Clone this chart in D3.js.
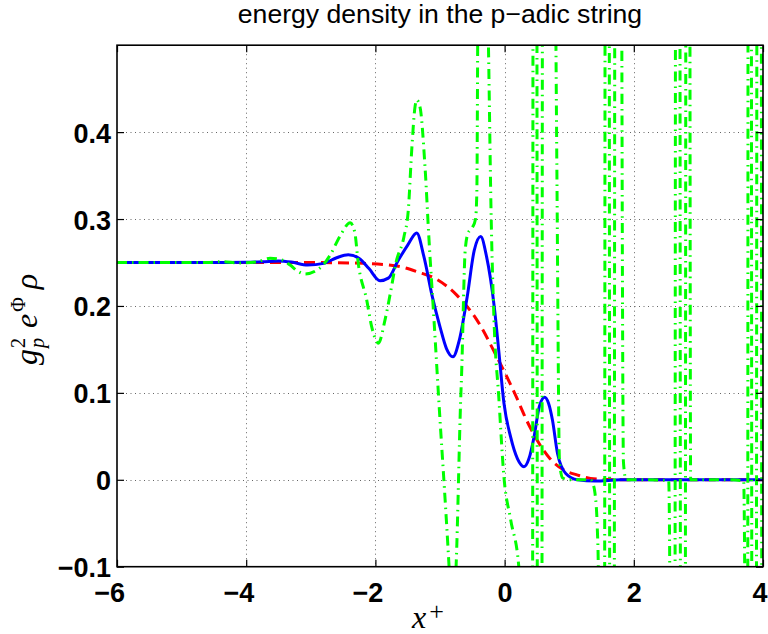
<!DOCTYPE html>
<html><head><meta charset="utf-8">
<script src="https://cdn.jsdelivr.net/npm/d3@7"></script>
<style>body{margin:0;background:#fff}svg{display:block}</style>
</head><body>
<svg id="c" width="768" height="634"></svg>
<script>
const titleText = "energy density in the p\u2212adic string";
const xTicks = [-6, -4, -2, 0, 2, 4];
const yTicks = [-0.1, 0, 0.1, 0.2, 0.3, 0.4];

// red dashed curve
const redX = [-6, -3.0, -2.19, -1.67, -1.34, -1.05, -0.74, -0.43, -0.12, 0.135, 0.39, 0.70, 0.90, 1.13, 1.33, 1.6, 2.0, 4.0];
const redY = [0.25, 0.25, 0.249, 0.246, 0.239, 0.2306, 0.2125, 0.184, 0.1415, 0.103, 0.061, 0.0246, 0.012, 0.0054, 0.0015, 0.0003, 0, 0];

// blue solid curve
const blueX = [-6, -4.5, -4.0, -3.75, -3.5, -3.3, -3.05, -2.8, -2.6, -2.42, -2.25, -2.1, -1.93, -1.8, -1.65, -1.5, -1.36, -1.25, -1.12, -1.0, -0.9, -0.8, -0.7, -0.58, -0.47, -0.37, -0.28, -0.16, -0.087, -0.01, 0.094, 0.2, 0.3, 0.38, 0.455, 0.54, 0.62, 0.68, 0.74, 0.82, 0.95, 1.13, 1.4, 1.8, 4.0];
const blueY = [0.25, 0.25, 0.2502, 0.2508, 0.2518, 0.2505, 0.2470, 0.2490, 0.2555, 0.2590, 0.2547, 0.2430, 0.2290, 0.2320, 0.2520, 0.2700, 0.2840, 0.2570, 0.2110, 0.1760, 0.1510, 0.1415, 0.1610, 0.2100, 0.2640, 0.2800, 0.2570, 0.1990, 0.1460, 0.0880, 0.0490, 0.0240, 0.0150, 0.0250, 0.0490, 0.0850, 0.0950, 0.0880, 0.0690, 0.0300, 0.0070, 0.0000, -0.0015, 0.0, 0.0];

// green dash-dot curve (values beyond the axes are estimated)
const greenX = [-6, -4.6, -4.4, -4.1, -3.85, -3.63, -3.45, -3.32, -3.2, -3.09, -2.91, -2.8, -2.7, -2.55, -2.39, -2.32, -2.265, -2.135, -2.057, -1.98, -1.955, -1.851, -1.774, -1.681, -1.557, -1.491, -1.438, -1.387, -1.361, -1.31, -1.232, -1.17, -1.093, -1.0, -0.93, -0.861, -0.81, -0.75, -0.68, -0.665, -0.61, -0.565, -0.5, -0.45, -0.43, -0.41, -0.34, -0.28, -0.25, -0.21, -0.164, -0.09, -0.01, 0.094, 0.22, 0.30, 0.40, 0.47, 0.54, 0.62, 0.76, 0.81, 0.85, 0.90, 1.0, 1.2, 1.33, 1.36, 1.40, 1.436, 1.45, 1.47, 1.51, 1.59, 1.66, 1.74, 1.84, 1.88, 2.2, 2.54, 2.56, 2.60, 2.68, 2.76, 2.84, 2.88, 3.0, 3.4, 3.70, 3.72, 3.74, 3.79, 3.86, 3.94, 4.0];
const greenY = [0.25, 0.25, 0.251, 0.2495, 0.2505, 0.2548, 0.253, 0.247, 0.240, 0.2367, 0.241, 0.248, 0.2586, 0.280, 0.2957, 0.285, 0.249, 0.207, 0.176, 0.159, 0.157, 0.184, 0.2125, 0.250, 0.280, 0.310, 0.379, 0.429, 0.437, 0.429, 0.360, 0.276, 0.184, 0.069, -0.012, -0.098, -0.17, -0.098, 0.092, 0.123, 0.264, 0.284, 0.290, 0.300, 0.33, 0.6, 0.95, 0.62, 0.5, 0.31, 0.184, 0.095, 0.003, -0.046, -0.1, -0.25, -3, 3, -3, 3, 0.9, 0.35, 0.02, 0.002, 0, 0, 0, -0.003, -0.016, -0.058, -0.098, -0.3, -3, 3, -3, 3, 0.02, 0, 0, -0.001, -0.15, -3, 3, -3, 3, 0, 0, 0, -0.001, -0.15, -3, 3, -3, 3, -3];

const svg = d3.select("#c");
svg.append("rect").attr("width", 768).attr("height", 634).attr("fill", "#fff");

const P = {left: 117, right: 763, top: 45.2, bottom: 566.7};
const x = d3.scaleLinear().domain([-6, 4]).range([P.left, P.right]);
const y = d3.scaleLinear().domain([-0.1, 0.5]).range([P.bottom, P.top]);

const defs = svg.append("defs");
defs.append("clipPath").attr("id", "clip").append("rect")
  .attr("x", P.left).attr("y", P.top).attr("width", P.right - P.left).attr("height", P.bottom - P.top);

// grid
const grid = svg.append("g").attr("stroke", "#555").attr("stroke-width", 0.9).attr("stroke-dasharray", "1,3.5");
grid.selectAll("line.gx").data(xTicks.filter(d => d > -6 && d < 4)).join("line")
  .attr("class", "gx")
  .attr("x1", d => Math.round(x(d)) + 0.5).attr("x2", d => Math.round(x(d)) + 0.5)
  .attr("y1", P.top).attr("y2", P.bottom);
grid.selectAll("line.gy").data(yTicks.filter(d => d > -0.1)).join("line")
  .attr("class", "gy")
  .attr("y1", d => Math.round(y(d)) + 0.5).attr("y2", d => Math.round(y(d)) + 0.5)
  .attr("x1", P.left).attr("x2", P.right);

// data
const plot = svg.append("g").attr("clip-path", "url(#clip)");
const line = d3.line().x(d => x(d[0])).y(d => y(d[1])).curve(d3.curveMonotoneX);
plot.append("path").datum(d3.zip(redX, redY)).attr("d", line)
  .attr("fill", "none").attr("stroke", "#ff0000").attr("stroke-width", 3).attr("stroke-dasharray", "11,6");
plot.append("path").datum(d3.zip(blueX, blueY)).attr("d", line)
  .attr("fill", "none").attr("stroke", "#0000ff").attr("stroke-width", 3);
plot.append("path").datum(d3.zip(greenX, greenY)).attr("d", line)
  .attr("fill", "none").attr("stroke", "#00ff00").attr("stroke-width", 3).attr("stroke-dasharray", "10,5,1.5,5");

// axes (ticks inward on all four sides)
const font = "'Liberation Sans', Arial, Helvetica, sans-serif";
const fmt = d3.format("");
const axB = svg.append("g").attr("transform", `translate(0,${P.bottom})`)
  .call(d3.axisBottom(x).tickValues(xTicks).tickSizeInner(-7).tickSizeOuter(0).tickFormat(fmt));
const axT = svg.append("g").attr("transform", `translate(0,${P.top})`)
  .call(d3.axisTop(x).tickValues(xTicks).tickSizeInner(-7).tickSizeOuter(0).tickFormat(""));
const axL = svg.append("g").attr("transform", `translate(${P.left},0)`)
  .call(d3.axisLeft(y).tickValues(yTicks).tickSizeInner(-7).tickSizeOuter(0).tickFormat(fmt));
const axR = svg.append("g").attr("transform", `translate(${P.right},0)`)
  .call(d3.axisRight(y).tickValues(yTicks).tickSizeInner(-7).tickSizeOuter(0).tickFormat(""));
[axB, axT, axL, axR].forEach(a => {
  a.select(".domain").remove();
  a.selectAll(".tick line").attr("stroke", "#000").attr("stroke-width", 1.2);
});
axB.selectAll(".tick text")
  .attr("font-family", font).attr("font-weight", "bold").attr("font-size", 27).attr("fill", "#000")
  .attr("text-anchor", "end").attr("x", d => Math.min(7.5, 767 - x(d))).attr("dy", null).attr("y", 35);
axL.selectAll(".tick text")
  .attr("font-family", font).attr("font-weight", "bold").attr("font-size", 27).attr("fill", "#000")
  .attr("text-anchor", "end").attr("x", -6).attr("dy", null).attr("y", 10);

// frame
svg.append("rect").attr("x", P.left).attr("y", P.top).attr("width", P.right - P.left).attr("height", P.bottom - P.top)
  .attr("fill", "none").attr("stroke", "#000").attr("stroke-width", 1.6);

// title
svg.append("text").attr("x", (P.left + P.right) / 2).attr("y", 22.5).attr("text-anchor", "middle")
  .attr("font-family", font).attr("font-size", 26.6).attr("fill", "#000").text(titleText);

// x label: x^+
const xl = svg.append("text").attr("x", 412).attr("y", 628)
  .attr("font-family", "'Liberation Serif', 'Times New Roman', serif").attr("fill", "#000");
xl.append("tspan").attr("font-style", "italic").attr("font-size", 32).text("x");
xl.append("tspan").attr("font-size", 26).attr("dx", 3).attr("dy", -8).text("+");

// y label: g_p^2 e^Phi rho
const yl = svg.append("text").attr("transform", "translate(37,365) rotate(-90)")
  .attr("font-family", "'Liberation Serif', 'Times New Roman', serif").attr("fill", "#000");
yl.append("tspan").attr("font-style", "italic").attr("font-size", 32).text("g");
yl.append("tspan").attr("font-size", 20).attr("dx", 1).attr("dy", -12).text("2");
yl.append("tspan").attr("font-style", "italic").attr("font-size", 20).attr("dx", -10).attr("dy", 19).text("p");
yl.append("tspan").attr("font-style", "italic").attr("font-size", 32).attr("dx", 10).attr("dy", -7).text("e");
yl.append("tspan").attr("font-size", 20).attr("dx", 2).attr("dy", -12).text("\u03A6");
yl.append("tspan").attr("font-style", "italic").attr("font-size", 32).attr("dx", 8).attr("dy", 12).text("\u03C1");
</script>
</body></html>
